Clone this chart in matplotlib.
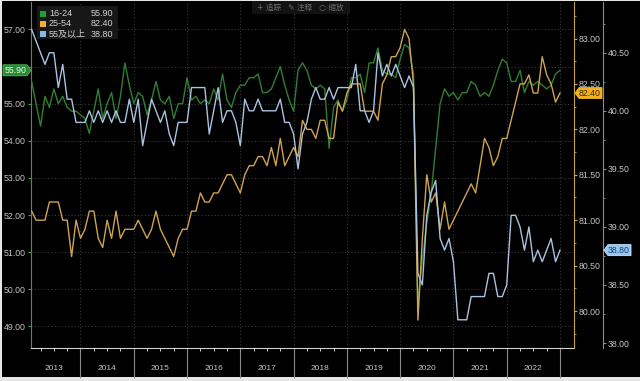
import matplotlib
matplotlib.use('Agg')
import matplotlib.pyplot as plt
import numpy as np
from matplotlib.patches import Polygon, Rectangle
import matplotlib.transforms as mtransforms
from matplotlib.ticker import FormatStrFormatter, MultipleLocator, FixedLocator, FuncFormatter

# ---------------- data ----------------
years = list(range(2013, 2023))
year_labels = [str(y) for y in years]
series_names = ['16-24', '25-54', '55及以上']

green = [
    55.6, 55.0, 54.4, 55.2, 54.9, 55.4, 55.0, 55.2, 54.9, 54.8, 54.8, 54.7,
    54.6, 54.2, 54.8, 55.4, 54.6, 55.0, 55.3, 54.6, 55.2, 56.1, 55.5, 55.0,
    55.3, 55.2, 54.7, 55.1, 55.6, 55.1, 55.0, 55.2, 54.6, 55.0, 55.0, 55.7,
    55.1, 55.2, 55.0, 55.1, 55.0, 55.4, 55.1, 55.8, 55.1, 54.9, 55.3, 55.5,
    55.5, 55.7, 55.7, 55.8, 55.3, 55.3, 55.4, 55.7, 56.0, 55.5, 55.1, 54.8,
    55.9, 56.1, 55.9, 55.5, 55.4, 55.5, 55.4, 53.8, 54.9, 55.1, 54.8, 55.1,
    55.7, 55.7, 55.8, 55.3, 56.1, 56.1, 56.5, 55.9, 55.8, 55.8, 55.7, 56.2,
    56.6, 56.5, 55.8, 49.6, 50.8, 51.8, 52.6, 53.8, 55.0, 55.4, 55.2, 55.3,
    55.1, 55.3, 55.3, 55.6, 55.5, 55.2, 55.3, 55.2, 55.5, 55.9, 56.2, 56.1,
    55.6, 55.6, 55.9, 55.3, 55.6, 55.5, 55.6, 55.5, 55.4, 55.5, 55.8, 55.9]

yellow = [
    81.1, 81.0, 81.0, 81.0, 81.2, 81.2, 81.2, 81.0, 81.0, 80.6, 81.0, 80.8,
    80.9, 81.1, 81.1, 80.8, 80.7, 81.0, 80.8, 81.1, 80.8, 80.9, 80.9, 80.9,
    81.0, 80.9, 80.8, 80.9, 81.1, 80.9, 80.8, 80.7, 80.6, 80.8, 80.9, 80.9,
    81.1, 81.1, 81.3, 81.2, 81.2, 81.3, 81.3, 81.4, 81.5, 81.5, 81.4, 81.3,
    81.5, 81.6, 81.6, 81.7, 81.7, 81.6, 81.8, 81.6, 81.9, 81.6, 81.7, 81.8,
    81.7, 82.1, 82.0, 82.0, 81.9, 82.1, 82.1, 81.9, 81.9, 82.3, 82.2, 82.4,
    82.5, 82.5, 82.5, 82.2, 82.2, 82.2, 82.1, 82.5, 82.6, 82.8, 82.8, 82.9,
    83.1, 83.0, 82.5, 79.9, 80.8, 81.5, 81.2, 81.3, 80.9, 81.2, 80.9, 81.0,
    81.1, 81.2, 81.3, 81.4, 81.3, 81.6, 81.9, 81.8, 81.6, 81.7, 81.9, 81.9,
    82.1, 82.3, 82.5, 82.5, 82.6, 82.4, 82.4, 82.8, 82.6, 82.5, 82.3, 82.4]

blue = [
    40.7, 40.6, 40.5, 40.4, 40.5, 40.5, 40.2, 40.4, 40.1, 40.1, 39.9, 39.9,
    39.9, 40.0, 39.9, 40.0, 39.9, 40.0, 39.9, 40.0, 39.9, 39.9, 40.1, 39.9,
    40.1, 39.7, 39.9, 40.1, 40.0, 39.9, 40.0, 39.8, 39.7, 39.9, 39.9, 39.9,
    40.2, 40.2, 40.2, 40.2, 39.8, 40.0, 40.2, 39.9, 40.0, 40.0, 39.9, 39.7,
    40.1, 40.0, 40.0, 40.1, 40.0, 40.0, 40.0, 40.0, 40.1, 39.9, 39.9, 39.8,
    39.5, 39.8, 39.9, 40.1, 40.2, 40.1, 40.1, 40.2, 40.1, 40.2, 40.2, 40.2,
    40.2, 40.4, 40.0, 40.0, 39.9, 40.0, 40.5, 40.3, 40.4, 40.3, 40.4, 40.3,
    40.2, 40.3, 40.2, 38.6, 38.5, 39.1, 39.3, 39.4, 38.9, 38.8, 38.9, 38.7,
    38.2, 38.2, 38.2, 38.4, 38.4, 38.4, 38.4, 38.6, 38.6, 38.4, 38.4, 38.5,
    39.1, 39.1, 39.0, 38.8, 39.0, 38.7, 38.8, 38.7, 38.8, 38.9, 38.7, 38.8]

# month-end positions in fractional years
t = 2013 + (np.arange(len(green)) + 1) / 12.0

# ---------------- style ----------------
W, H = 640, 381
FONT = ['Liberation Sans', 'Noto Sans CJK SC', 'DejaVu Sans']
plt.rcParams['font.family'] = FONT
TXT = '#c4c4c4'
C_G_LINE, C_Y_LINE, C_B_LINE = '#317f31', '#d0a352', '#a9c3e0'
C_G_AX, C_Y_AX, C_B_AX = '#3e9c3e', '#c9a24a', '#7d90ab'

fig = plt.figure(figsize=(W / 100, H / 100), dpi=100, facecolor='#e6e6e6')
fig.patches.append(Rectangle((2 / W, 1 - 377 / H), 638 / W, 376 / H,
                             transform=fig.transFigure, facecolor='black',
                             edgecolor='none', zorder=-5))


def fxy(px, py):
    return px / W, 1 - py / H


L, R, T, B = 31, 574, 2, 348
ax = fig.add_axes([L / W, 1 - B / H, (R - L) / W, (B - T) / H])
ax.set_facecolor('black')
ax2 = ax.twinx()
ax3 = ax.twinx()

ax.set_xlim(2013.071, 2023.263)
ax.set_ylim(48.42, 57.74)
ax2.set_ylim(79.593, 83.402)
ax3.set_ylim(37.957, 40.937)

gl, = ax.plot(t, green, color=C_G_LINE, lw=1.0, zorder=3)
yl, = ax2.plot(t, yellow, color=C_Y_LINE, lw=1.0, zorder=3)
bl, = ax3.plot(t, blue, color=C_B_LINE, lw=1.0, zorder=3)

# spines
for a in (ax, ax2, ax3):
    for s in a.spines.values():
        s.set_visible(False)
ax.spines['left'].set_visible(True)
ax.spines['left'].set_color(C_G_AX)
ax.spines['bottom'].set_visible(True)
ax.spines['bottom'].set_color('#cfcfcf')
ax2.spines['right'].set_visible(True)
ax2.spines['right'].set_color(C_Y_AX)
ax3.spines['right'].set_visible(True)
ax3.spines['right'].set_color(C_B_AX)
ax3.spines['right'].set_position(('outward', 29 * 0.72))

# grid
ax.set_axisbelow(True)
ax.grid(True, which='major', color='#3a3a3a', linestyle=(0, (1, 2)), lw=0.8)

# left axis (56.00 label is hidden behind the value tag in the original)
ax.yaxis.set_major_locator(MultipleLocator(1.0))
ax.yaxis.set_major_formatter(FuncFormatter(
    lambda v, p: '' if abs(v - round(green[-1])) < 1e-6 else '%.2f' % v))
ax.tick_params(axis='y', which='major', colors=C_G_AX, labelcolor=TXT,
               labelsize=6.3, length=2.5, width=0.8, pad=1.5, direction='out')

# right axes
for a, step, c in ((ax2, 0.5, C_Y_AX), (ax3, 0.5, C_B_AX)):
    a.yaxis.set_major_locator(MultipleLocator(step))
    a.yaxis.set_minor_locator(MultipleLocator(step / 2))
    a.yaxis.set_major_formatter(FormatStrFormatter('%.2f'))
    a.tick_params(axis='y', which='major', colors=c, labelcolor=TXT,
                  labelsize=6.3, length=2.5, width=0.8, pad=1.0)
    a.tick_params(axis='y', which='minor', colors=c, length=1.5, width=0.6)

# x axis: year separators, quarter ticks, centered year labels
ax.xaxis.set_major_locator(FixedLocator([y + 1 for y in years]))
ax.xaxis.set_minor_locator(FixedLocator([y + q for y in years for q in (0.25, 0.5, 0.75)]))
ax.xaxis.set_major_formatter(plt.NullFormatter())
ax.tick_params(axis='x', which='major', colors='#8a8a8a', length=21.6, width=0.8)
ax.tick_params(axis='x', which='minor', colors='#cfcfcf', length=2.0, width=0.7)
trans = mtransforms.blended_transform_factory(ax.transData, ax.transAxes)
for y, lab in zip(years, year_labels):
    ax.text(y + 0.5, -(368 - B) / (B - T), lab, transform=trans, ha='center',
            va='center', fontsize=6.0, color=TXT)

# legend box
fig.patches.append(Rectangle(fxy(37, 39), 81 / W, 33 / H, transform=fig.transFigure,
                             facecolor='#171717', edgecolor='none', zorder=5))
leg_colors = ['#1f9e31', '#f1b12a', '#86b8ea']
leg_vals = ['%.2f' % green[-1], '%.2f' % yellow[-1], '%.2f' % blue[-1]]
for i, (nm, col, val) in enumerate(zip(series_names, leg_colors, leg_vals)):
    yc = 13.5 + i * 10.3
    fig.patches.append(Rectangle(fxy(40, yc + 3), 6 / W, 6 / H, transform=fig.transFigure,
                                 facecolor=col, edgecolor='none', zorder=6))
    fig.text(*fxy(49, yc), nm, fontsize=6.5, color='#d2d2d2', va='center', ha='left', zorder=7)
    fig.text(*fxy(113, yc), val, fontsize=6.5, color='#d2d2d2', va='center', ha='right', zorder=7)

# toolbar
fig.patches.append(Rectangle(fxy(252, 14), 98 / W, 13 / H, transform=fig.transFigure,
                             facecolor='#121212', edgecolor='none', zorder=5))
fig.text(*fxy(300, 7.5), '+ 追踪   ✎ 注释   ○ 缩放', fontsize=5.5, color='#6e6e6e',
         ha='center', va='center', family=['DejaVu Sans', 'Noto Sans CJK SC'], zorder=7)


# value tags
def ypix(a, v):
    return H - a.transData.transform((t[-1], v))[1]


yg = ypix(ax, green[-1])
poly = [(3, yg - 5.5), (27, yg - 5.5), (31, yg), (27, yg + 5.5), (3, yg + 5.5)]
fig.patches.append(Polygon([fxy(*p) for p in poly], closed=True, transform=fig.transFigure,
                           facecolor='#2a8a33', edgecolor='#56b85c', lw=0.6, zorder=8))
fig.text(*fxy(16, yg), leg_vals[0], fontsize=6.3, color='#e8ffe8', ha='center', va='center', zorder=9)

yy = ypix(ax2, yellow[-1])
poly = [(575, yy), (579, yy - 5.5), (602, yy - 5.5), (602, yy + 5.5), (579, yy + 5.5)]
fig.patches.append(Polygon([fxy(*p) for p in poly], closed=True, transform=fig.transFigure,
                           facecolor='#f3b11f', edgecolor='#f3b11f', lw=0.6, zorder=8))
fig.text(*fxy(590, yy), leg_vals[1], fontsize=6.3, color='#3a2800', ha='center', va='center', zorder=9)

yb = ypix(ax3, blue[-1])
poly = [(604, yb), (608, yb - 5.5), (631, yb - 5.5), (631, yb + 5.5), (608, yb + 5.5)]
fig.patches.append(Polygon([fxy(*p) for p in poly], closed=True, transform=fig.transFigure,
                           facecolor='#98c6ef', edgecolor='#cde6ff', lw=0.6, zorder=8))
fig.text(*fxy(619, yb), leg_vals[2], fontsize=6.3, color='#1b3f78', ha='center', va='center', zorder=9)

fig.savefig('out.png', dpi=100, facecolor=fig.get_facecolor())
